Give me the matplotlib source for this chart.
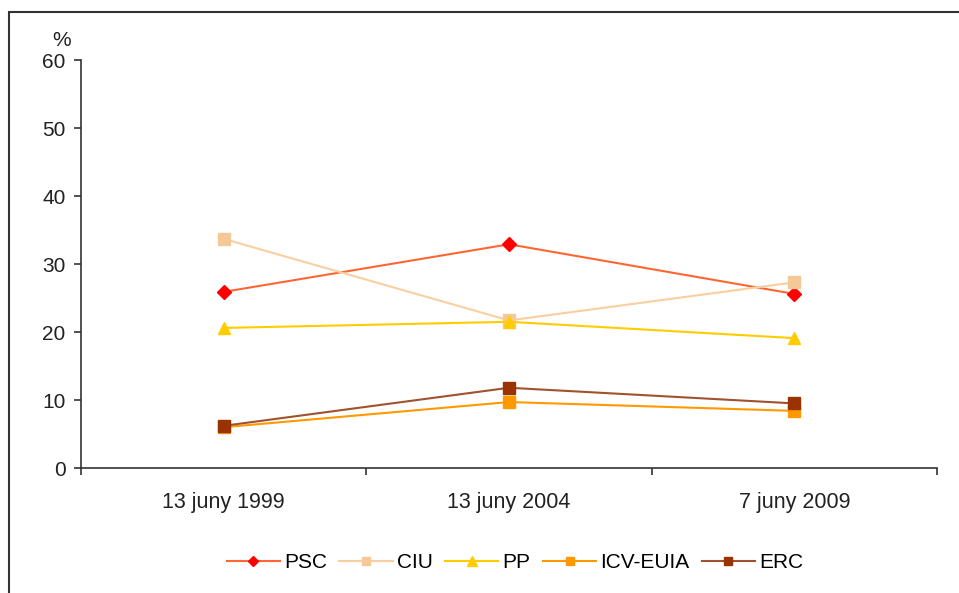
import matplotlib
matplotlib.use('Agg')
import matplotlib.pyplot as plt
from matplotlib.patches import Rectangle

plt.rcParams['font.family'] = ['Liberation Sans', 'DejaVu Sans']

# dades
dates = ['13 juny 1999', '13 juny 2004', '7 juny 2009']
psc = [25.9, 32.9, 25.6]
ciu = [33.7, 21.7, 27.3]
pp = [20.6, 21.5, 19.1]
icv = [6.0, 9.7, 8.4]
erc = [6.2, 11.8, 9.5]

series = [
    ('PSC', psc, '#FF6633', '#FF0000', 'D', 7),
    ('CIU', ciu, '#F9CFA0', '#F5C898', 's', 8),
    ('PP', pp, '#FFCC00', '#FFCC00', '^', 9),
    ('ICV-EUIA', icv, '#FF9900', '#FF9900', 's', 8),
    ('ERC', erc, '#A0522D', '#993300', 's', 8),
]

fig = plt.figure(figsize=(9.59, 5.93), dpi=100)
ax = fig.add_axes([81/959, 1-468/593, (937-81)/959, (468-60)/593])

x = list(range(len(dates)))
for name, vals, lc, mc, mk, ms in series:
    ax.plot(x, vals, color=lc, lw=1.5, marker=mk, ms=ms,
            markerfacecolor=mc, markeredgecolor=mc, label=name)

ax.set_ylim(0, 60)
ax.set_yticks(range(0, 61, 10))
ax.set_xlim(-0.5, len(dates)-0.5)
# ticks entre categories, etiquetes al centre
ax.set_xticks([i-0.5 for i in range(len(dates)+1)])
ax.set_xticklabels([])
ax.set_xticks(x, minor=True)
ax.set_xticklabels(dates, minor=True)
ax.tick_params(axis='x', which='minor', length=0, pad=17, labelsize=15.5, colors='#222222')
ax.tick_params(axis='x', which='major', length=5, width=1.2, color='#333333')
ax.tick_params(axis='y', length=5, width=1.2, color='#333333', pad=6, labelsize=15, labelcolor='#222222')

for s in ['top', 'right']:
    ax.spines[s].set_visible(False)
for s in ['left', 'bottom']:
    ax.spines[s].set_linewidth(1.2)
    ax.spines[s].set_color('#333333')

fig.text(62/959, 1-40/593, '%', fontsize=15, ha='center', va='center', color='#222222')

fig.legend(loc='center', bbox_to_anchor=(515/959, 1-563/593), ncol=5, frameon=False,
           fontsize=15, handlelength=2.55, handletextpad=0.2, columnspacing=0.6,
           markerscale=0.8)

# marc del grafic
fig.patches.append(Rectangle((9/959, -0.1), 1.1, 1-12/593+0.1, transform=fig.transFigure,
                             fill=False, lw=1.5, edgecolor='#333333'))

fig.savefig('out.png', dpi=100)
